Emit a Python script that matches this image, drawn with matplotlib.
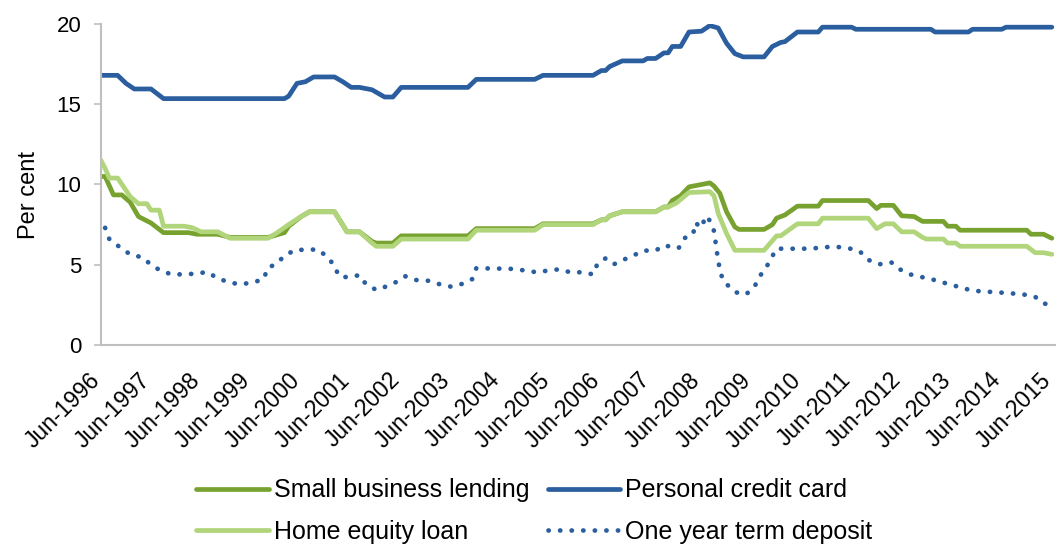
import numpy as np
import matplotlib.pyplot as plt

# months counted from Jun-1996
years = list(range(1996, 2016))
tick_labels = ["Jun-%d" % y for y in years]

# Personal credit card
cc_m = [0, 4, 6, 8, 12, 15, 44, 45, 47, 49, 51, 56, 58, 60, 62, 65, 68, 70, 72, 88, 90, 104, 106,
        118, 120, 121, 122, 125, 130, 131, 133, 135, 136, 137, 139, 141, 144, 146, 148, 150, 152,
        154, 159, 161, 163, 164, 167, 172, 173, 180, 181, 199, 200, 208, 209, 216, 217, 228]
cc_v = [16.8, 16.8, 16.3, 15.95, 15.95, 15.35, 15.35, 15.5, 16.3, 16.4, 16.7, 16.7, 16.4, 16.05, 16.05,
        15.9, 15.45, 15.45, 16.05, 16.05, 16.55, 16.55, 16.8, 16.8, 17.1, 17.1, 17.35, 17.7, 17.7,
        17.85, 17.85, 18.2, 18.2, 18.6, 18.6, 19.5, 19.55, 19.9, 19.75, 18.8, 18.15, 17.95, 17.95,
        18.6, 18.85, 18.9, 19.5, 19.5, 19.8, 19.8, 19.67, 19.67, 19.5, 19.5, 19.67, 19.67, 19.8, 19.8]

# Small business lending
sb_m = [0, 1, 3, 5, 7, 9, 12, 15, 21, 23, 28, 31, 40, 44, 45, 48, 50, 56, 59, 62, 65, 66, 70, 72,
        88, 90, 104, 106, 118, 120, 121, 122, 125, 133, 135, 136, 137, 139, 141, 143, 146, 147,
        148.4, 150, 152, 153, 159, 161, 162, 164, 167, 172, 173, 184, 186, 187, 190, 192, 195, 197,
        202, 203, 205, 206, 222, 223, 226, 228]
sb_v = [10.5, 10.5, 9.35, 9.35, 8.9, 8.0, 7.6, 7.0, 7.0, 6.9, 6.9, 6.7, 6.7, 7.0, 7.4, 8.0, 8.3, 8.3,
        7.05, 7.05, 6.45, 6.35, 6.35, 6.8, 6.8, 7.25, 7.25, 7.55, 7.55, 7.8, 7.8, 8.05, 8.3, 8.3,
        8.6, 8.6, 9.0, 9.3, 9.85, 9.95, 10.1, 9.9, 9.45, 8.3, 7.35, 7.2, 7.2, 7.5, 7.9, 8.1, 8.65,
        8.65, 9.0, 9.0, 8.5, 8.7, 8.7, 8.05, 8.0, 7.7, 7.7, 7.4, 7.4, 7.15, 7.15, 6.9, 6.9, 6.65]

# Home equity loan
he_m = [0, 1, 2, 4, 7, 9, 11, 12, 14, 15, 20, 22, 24, 28, 31, 40, 42, 45, 48, 50, 56, 59, 62, 65,
        66, 70, 72, 88, 90, 104, 106, 118, 120, 121, 122, 125, 133, 135, 136, 138, 141, 146, 147,
        148, 150, 152, 159, 162, 163, 167, 172, 173, 184, 186, 188, 190, 192, 195, 197, 198, 202,
        203, 205, 206, 222, 224, 226, 228]
he_v = [11.5, 11.0, 10.4, 10.4, 9.25, 8.8, 8.8, 8.4, 8.4, 7.4, 7.4, 7.3, 7.05, 7.05, 6.65, 6.65, 6.95,
        7.5, 8.0, 8.3, 8.3, 7.05, 7.05, 6.35, 6.15, 6.15, 6.6, 6.6, 7.15, 7.15, 7.5, 7.5, 7.8, 7.8,
        8.05, 8.3, 8.3, 8.6, 8.6, 8.85, 9.5, 9.55, 9.3, 8.2, 6.95, 5.9, 5.9, 6.8, 6.8, 7.55, 7.55,
        7.9, 7.9, 7.25, 7.55, 7.55, 7.05, 7.05, 6.7, 6.6, 6.6, 6.35, 6.35, 6.15, 6.15, 5.75, 5.75, 5.65]

# One year term deposit
td_m = [1, 2, 5, 7, 10, 12, 14.5, 17, 20, 23, 25.5, 28, 31, 33.5, 36.5, 39, 40, 42, 44, 46.5, 52, 54,
        56, 57, 59, 62, 63.5, 66, 69, 71, 73, 75.5, 78.5, 81, 84, 86.5, 89, 90, 98, 101.5, 104.5,
        107.5, 110, 112.5, 115.5, 118, 119, 121, 123, 125, 127.5, 130, 133, 135, 136.5, 138.5, 140,
        142, 142.5, 144, 145, 146, 147, 147.8, 148.5, 149.5, 152.3, 154.6, 156.7, 158, 159.4, 160.7,
        162, 170, 174, 177, 179.3, 182, 184, 186.7, 189.5, 191.5, 194, 197, 199, 204, 209, 215, 221,
        224, 226, 228]
td_v = [7.3, 6.6, 6.0, 5.65, 5.45, 5.0, 4.6, 4.4, 4.4, 4.45, 4.55, 4.15, 3.88, 3.78, 3.9, 4.1, 4.8,
        5.05, 5.55, 5.92, 5.95, 5.55, 4.95, 4.3, 4.22, 4.35, 3.8, 3.43, 3.7, 3.95, 4.28, 4.05, 4.0,
        3.8, 3.63, 3.8, 4.1, 4.78, 4.75, 4.65, 4.53, 4.65, 4.72, 4.53, 4.53, 4.4, 5.03, 5.4, 5.03,
        5.28, 5.55, 5.88, 5.88, 6.21, 6.13, 6.03, 6.67, 6.9, 7.62, 7.31, 8.04, 7.75, 7.1, 5.61, 4.5,
        3.9, 3.28, 3.14, 3.63, 4.3, 4.78, 5.4, 6.0, 6.0, 6.1, 6.1, 6.03, 5.82, 5.3, 5.03, 5.15, 4.72,
        4.4, 4.22, 4.11, 3.74, 3.38, 3.28, 3.16, 3.0, 2.6, 2.45]

dark_green = "#78A22F"
blue = "#2A5E9E"
light_green = "#B0D57A"
grey = "#BFBFBF"

plt.rcParams['font.family'] = ['Liberation Sans', 'DejaVu Sans']

fig = plt.figure(figsize=(10.56, 5.45), dpi=100)
ax = fig.add_axes([0.0956, 0.367, 0.9044, 0.589])

lw = 3.4
l_sb, = ax.plot(sb_m, sb_v, color=dark_green, lw=lw, solid_capstyle='round', solid_joinstyle='round',
                label="Small business lending")
l_cc, = ax.plot(cc_m, cc_v, color=blue, lw=lw, solid_capstyle='round', solid_joinstyle='round',
                label="Personal credit card")
l_he, = ax.plot(he_m, he_v, color=light_green, lw=lw, solid_capstyle='round', solid_joinstyle='round',
                label="Home equity loan")
l_td, = ax.plot(td_m, td_v, color=blue, lw=lw, linestyle=(0, (0.05, 2.4)), dash_capstyle='round',
                label="One year term deposit")

ax.set_xlim(0, 229)
ax.set_ylim(0, 20)
ax.set_yticks([0, 5, 10, 15, 20])
ax.set_xticks(np.arange(0, 229, 12))
ax.set_xticklabels(tick_labels, rotation=45, ha='right', va='baseline', rotation_mode='anchor',
                   fontsize=16.5)
ax.tick_params(axis='y', labelsize=16, length=5, color=grey, width=1.2, pad=9)
ax.tick_params(axis='x', length=0, pad=26)
ax.set_ylabel("Per cent", fontsize=17)
ax.yaxis.set_label_coords(-0.064, 0.467)

for s in ['top', 'right']:
    ax.spines[s].set_visible(False)
for s in ['left', 'bottom']:
    ax.spines[s].set_color(grey)
    ax.spines[s].set_linewidth(1.5)

# column-major fill -> rows: (sb, cc), (he, td)
fig.legend([l_sb, l_he, l_cc, l_td], [l.get_label() for l in [l_sb, l_he, l_cc, l_td]],
           loc='center', bbox_to_anchor=(0.506, 0.062), ncol=2, frameon=False, fontsize=18,
           handlelength=2.9, handletextpad=0.2, columnspacing=0.75, labelspacing=0.7)

fig.savefig("out.png", dpi=100)
